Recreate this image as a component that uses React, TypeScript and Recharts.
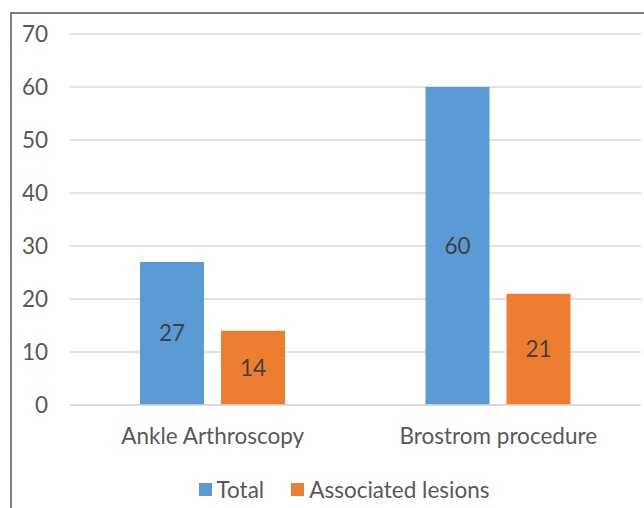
import React from "react";
import { BarChart, Bar, XAxis, YAxis, CartesianGrid, Legend, LabelList } from "recharts";

const categories = ["Ankle Arthroscopy", "Brostrom procedure"];
const totalValues = [27, 60];
const lesionValues = [14, 21];
const yTicks = [0, 10, 20, 30, 40, 50, 60, 70];

const seriesNames = ["Total", "Associated lesions"];
const seriesColors = ["#5b9bd5", "#ed7d31"];

const data = categories.map((name, i) => ({
  name,
  total: totalValues[i],
  lesions: lesionValues[i],
}));

const FONT = "Lato, 'Open Sans', sans-serif";
const TEXT = "#595959";
const FS = 22.5;

function LegendContent() {
  return (
    <div style={{ display: "flex", justifyContent: "center", alignItems: "center", fontFamily: FONT, fontSize: FS, color: TEXT }}>
      {seriesNames.map((n, i) => (
        <div key={n} style={{ display: "flex", alignItems: "center", marginLeft: i === 0 ? 0 : 27 }}>
          <span style={{ display: "inline-block", width: 13, height: 13, background: seriesColors[i], marginRight: 5 }} />
          <span>{n}</span>
        </div>
      ))}
    </div>
  );
}

export default function App() {
  return (
    <div style={{ position: "absolute", left: 0, top: 0, width: 644, height: 508, overflow: "hidden", background: "#fff" }}>
      <div
        style={{
          position: "absolute",
          left: 10,
          top: 12,
          width: 700,
          height: 600,
          border: "2px solid #7f7f7f",
          boxSizing: "border-box",
        }}
      />
      <BarChart
        width={644}
        height={508}
        data={data}
        margin={{ top: 34, right: 3, left: 0, bottom: 73 }}
        barGap={17}
        barSize={64}
        style={{ position: "absolute", left: 0, top: 0, fontFamily: FONT }}
      >
        <CartesianGrid vertical={false} stroke="#d9d9d9" strokeWidth={1.5} />
        <XAxis
          dataKey="name"
          axisLine={{ stroke: "#d9d9d9", strokeWidth: 1.5 }}
          tickLine={false}
          tickSize={0}
          tickMargin={23}
          height={30}
          tick={{ fill: TEXT, fontSize: FS, fontFamily: FONT }}
        />
        <YAxis
          domain={[0, 70]}
          ticks={yTicks}
          axisLine={false}
          tickLine={false}
          tickSize={0}
          tickMargin={22}
          width={70}
          interval={0}
          tick={{ fill: TEXT, fontSize: FS, fontFamily: FONT }}
        />
        <Legend
          layout="horizontal"
          verticalAlign="middle"
          align="center"
          wrapperStyle={{ top: 476, left: 22, width: 644 }}
          content={<LegendContent />}
        />
        <Bar dataKey="total" name={seriesNames[0]} fill={seriesColors[0]} isAnimationActive={false}>
          <LabelList dataKey="total" position="center" fill="#404040" fontSize={FS} fontFamily={FONT} />
        </Bar>
        <Bar dataKey="lesions" name={seriesNames[1]} fill={seriesColors[1]} isAnimationActive={false}>
          <LabelList dataKey="lesions" position="center" fill="#404040" fontSize={FS} fontFamily={FONT} />
        </Bar>
      </BarChart>
    </div>
  );
}
